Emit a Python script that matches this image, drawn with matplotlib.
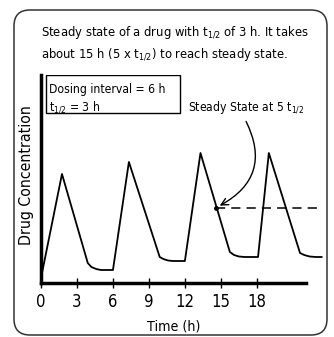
import matplotlib
matplotlib.use("Agg")
import matplotlib.pyplot as plt
from matplotlib.patches import FancyBboxPatch, Rectangle

plt.rcParams['font.family'] = ['DejaVu Sans']
plt.rcParams['font.stretch'] = 'condensed'
plt.rcParams['mathtext.fontset'] = 'custom'
plt.rcParams['mathtext.rm'] = 'DejaVu Sans:stretch=condensed'
plt.rcParams['mathtext.it'] = 'DejaVu Sans:stretch=condensed'

# drug concentration curve (arbitrary units)
time_h = [0, 1.75, 3.9, 4.2, 4.6, 5.0, 6.0,
          7.33, 9.9, 10.2, 10.6, 11.0, 12.0,
          13.3, 15.75, 16.1, 16.5, 17.0, 18.1,
          19.0, 21.6, 21.95, 22.4, 22.9, 23.4]
conc = [5, 109, 20, 16, 14, 13, 13,
        121, 26, 24, 22.5, 22, 22,
        130, 31, 28, 26.5, 26, 26,
        130, 30, 28, 26.5, 26, 26]
x_ticks = [0, 3, 6, 9, 12, 15, 18]
steady_t = 14.6
steady_level = 75
steady_end = 23.4

W, H = 334, 337
fig = plt.figure(figsize=(W / 100, H / 100), dpi=100)
ax = fig.add_axes([41 / W, 1 - 283 / H, 265 / W, 208 / H])

# rounded frame around the whole panel (pixel coords)
frame = FancyBboxPatch((14, 2), 313, 325, boxstyle="round,pad=0,rounding_size=16",
                       transform=None, fill=False, ec='#333333', lw=1.1)
fig.patches.append(frame)

ax.plot(time_h, conc, color='black', lw=1.3, clip_on=False)
ax.plot([steady_t, steady_end], [steady_level, steady_level], color='black',
        lw=1.1, ls=(0, (6, 4)), clip_on=False)
ax.plot([steady_t], [steady_level], 'o', color='black', ms=2.5, clip_on=False)

ax.annotate("", xy=(steady_t + 0.1, steady_level + 1), xytext=(17.0, 164),
            arrowprops=dict(arrowstyle='->,head_length=0.5,head_width=0.25', color='black',
                            lw=1.0, connectionstyle="arc3,rad=-0.5"),
            annotation_clip=False)
ax.text(12.25, 175, r"Steady State at 5 t$_{1/2}$", fontsize=8.7, va='center', ha='left',
        clip_on=False)

ax.set_xlim(0, 22.1)
ax.set_ylim(0, 208)
ax.set_xticks(x_ticks)
ax.set_xticklabels([str(t) for t in x_ticks], fontsize=12)
ax.tick_params(axis='x', direction='inout', length=7, width=1, pad=4)
ax.set_yticks([])
for s in ['top', 'right']:
    ax.spines[s].set_visible(False)
for s in ['left', 'bottom']:
    ax.spines[s].set_linewidth(2.5)
ax.patch.set_alpha(0)

# legend-like box in the top left
ax.add_patch(Rectangle((0.019, 0.817), 0.506, 0.183, transform=ax.transAxes,
                       fill=False, ec='black', lw=1))
ax.text(0.03, 0.928, "Dosing interval = 6 h", transform=ax.transAxes, fontsize=8.7, va='center')
ax.text(0.03, 0.846, r"t$_{1/2}$ = 3 h", transform=ax.transAxes, fontsize=8.7, va='center')

fig.text(41 / W, 1 - 33 / H, r"Steady state of a drug with t$_{1/2}$ of 3 h. It takes",
         fontsize=9.3, va='center', ha='left')
fig.text(41 / W, 1 - 55 / H, r"about 15 h (5 x t$_{1/2}$) to reach steady state.",
         fontsize=9.3, va='center', ha='left')
fig.text(26 / W, 1 - 175 / H, "Drug Concentration", rotation=90, fontsize=11.3,
         va='center', ha='center')
fig.text(174 / W, 1 - 327 / H, "Time (h)", fontsize=10.2, va='center', ha='center')

fig.savefig("out.png", dpi=100)
